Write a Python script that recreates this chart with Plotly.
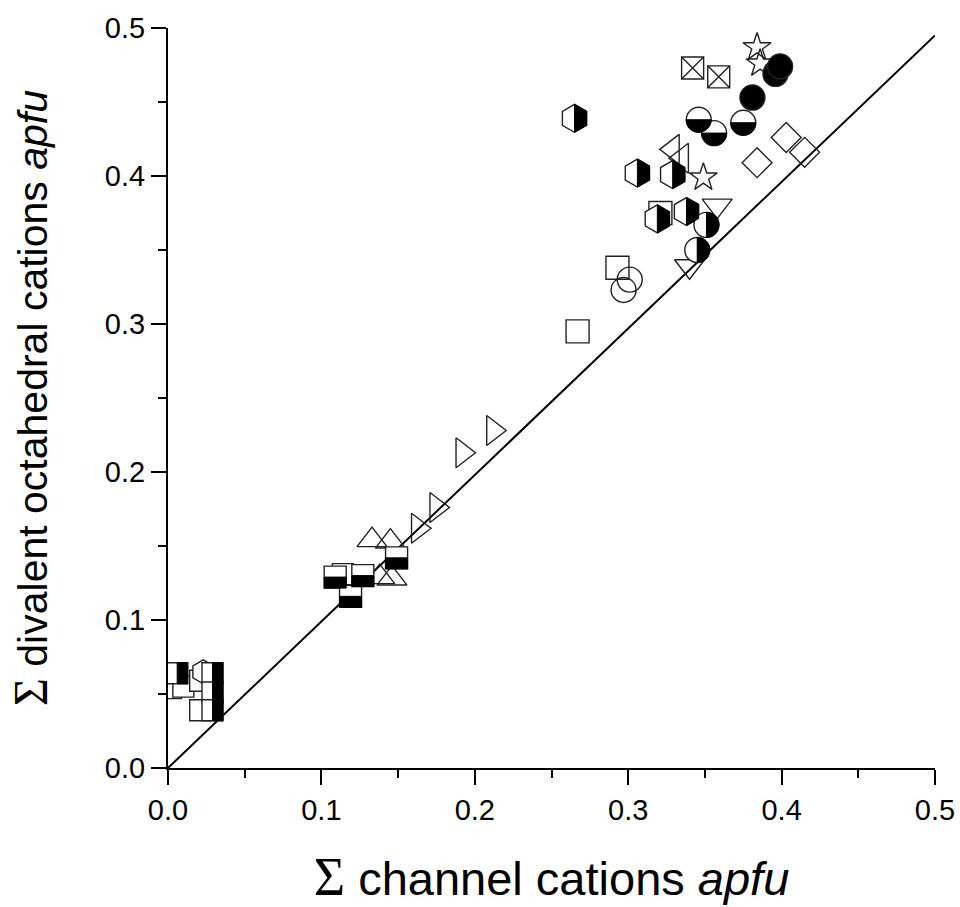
import numpy as np
import plotly.graph_objects as go

# ---------------- data ----------------
# open stars
star_x = [0.384, 0.386, 0.349]
star_y = [0.487, 0.476, 0.399]
# crossed squares
xsq_x = [0.342, 0.359]
xsq_y = [0.473, 0.467]
# filled circles
fcirc_x = [0.396, 0.399, 0.381]
fcirc_y = [0.469, 0.474, 0.453]
# circles, bottom half black
hcb_x = [0.346, 0.356, 0.375]
hcb_y = [0.438, 0.429, 0.436]
# circles, right half black
hcr_x = [0.351, 0.345]
hcr_y = [0.367, 0.350]
# hexagons, right half black
hex_x = [0.265, 0.306, 0.329, 0.319, 0.338]
hex_y = [0.439, 0.402, 0.401, 0.371, 0.376]
# open triangle-left
tl_x = [0.335, 0.329]
tl_y = [0.412, 0.418]
# open diamonds
dia_x = [0.384, 0.403, 0.415]
dia_y = [0.409, 0.426, 0.416]
# open triangle-down
td_x = [0.358, 0.340]
td_y = [0.380, 0.339]
# open squares
osq_x = [0.293, 0.267, 0.321]
osq_y = [0.338, 0.295, 0.375]
# open circles
ocirc_x = [0.301, 0.297]
ocirc_y = [0.330, 0.323]
# open triangle-right
tr_x = [0.212, 0.192, 0.175, 0.163]
tr_y = [0.228, 0.213, 0.176, 0.162]
# open triangle-up
tu_x = [0.133, 0.145, 0.138, 0.146]
tu_y = [0.154, 0.153, 0.129, 0.128]
# squares, bottom half black
sqb_x = [0.109, 0.119, 0.127, 0.149]
sqb_y = [0.129, 0.116, 0.130, 0.142]
# open squares (lower clusters)
osq2_x = [0.114, 0.002, 0.010, 0.021, 0.021]
osq2_y = [0.131, 0.054, 0.055, 0.059, 0.039]
# open hexagon in the lowest cluster
ohex_x = [0.023]
ohex_y = [0.065]
# squares, right half black
sqr_x = [0.006, 0.029, 0.029, 0.029]
sqr_y = [0.064, 0.064, 0.051, 0.039]

line_x = [0.0, 0.5]
line_y = [0.0, 0.495]

x_ticks = [0.0, 0.1, 0.2, 0.3, 0.4, 0.5]
tick_text = ["0.0", "0.1", "0.2", "0.3", "0.4", "0.5"]

# ---------------- figure ----------------
OUT = "#222222"
fig = go.Figure()

fig.add_trace(go.Scatter(x=line_x, y=line_y, mode="lines",
                         line=dict(color="black", width=2), hoverinfo="skip"))


def add_open(xs, ys, symbol, size, lw=1.4):
    fig.add_trace(go.Scatter(
        x=xs, y=ys, mode="markers",
        marker=dict(symbol=symbol, size=size, color=OUT, line=dict(color=OUT, width=lw))))


def add_filled(xs, ys, symbol, size, fill, lw=1.4):
    fig.add_trace(go.Scatter(
        x=xs, y=ys, mode="markers",
        marker=dict(symbol=symbol, size=size, color=fill, line=dict(color=OUT, width=lw))))


add_open(tr_x, tr_y, "triangle-right-open", 26)
add_open(tu_x, tu_y, "triangle-up-open", 26)
add_filled(osq2_x, osq2_y, "square", 21, "white")
add_filled(ohex_x, ohex_y, "hexagon", 24, "white")
add_filled(sqb_x, sqb_y, "square", 22, "white")
add_filled(sqr_x, sqr_y, "square", 21, "white")
add_open(osq_x, osq_y, "square-open", 23)
add_open(ocirc_x, ocirc_y, "circle-open", 25)
add_open(td_x, td_y, "triangle-down-open", 26)
add_open(dia_x, dia_y, "diamond-open", 23)
add_open(tl_x, tl_y, "triangle-left-open", 26)
add_filled(hex_x, hex_y, "hexagon", 28, "white")
add_filled(hcr_x, hcr_y, "circle", 25, "white")
add_filled(hcb_x, hcb_y, "circle", 25, "white")
add_open(star_x, star_y, "star-open", 21)
add_filled(fcirc_x, fcirc_y, "circle", 25, "black")
add_open(xsq_x, xsq_y, "square-x-open", 22)

# black halves for the half-filled symbols (pixel-sized shapes anchored at data points)
def path_from(pts):
    return "M" + " L".join(f"{px:.2f},{py:.2f}" for px, py in pts) + " Z"


def half_circle(r, start, end):
    th = np.linspace(np.radians(start), np.radians(end), 25)
    return path_from(list(zip(r * np.cos(th), r * np.sin(th))))


shapes = []


def add_half(xs, ys, path):
    for xv, yv in zip(xs, ys):
        shapes.append(dict(type="path", xref="x", yref="y",
                           xsizemode="pixel", ysizemode="pixel",
                           xanchor=xv, yanchor=yv, path=path,
                           fillcolor="black", line=dict(color="black", width=1),
                           layer="above"))


add_half(hcb_x, hcb_y, half_circle(12.5, 180, 360))
add_half(hcr_x, hcr_y, half_circle(12.5, -90, 90))
r = 14
r2 = r * np.sqrt(3) / 2
add_half(hex_x, hex_y, path_from([(0, r), (r2, r / 2), (r2, -r / 2), (0, -r)]))
s = 10.5
add_half(sqr_x, sqr_y, path_from([(0, -s), (s, -s), (s, s), (0, s)]))
s2 = 11
add_half(sqb_x, sqb_y, path_from([(-s2, 0), (s2, 0), (s2, -s2), (-s2, -s2)]))


def sig(size):
    return f'<span style="font-family:Liberation Serif;font-size:{size}px">Σ</span>'


fig.update_layout(
    width=960, height=907,
    margin=dict(l=168, r=25, t=28, b=139),
    paper_bgcolor="white", plot_bgcolor="white",
    showlegend=False,
    font=dict(family="Liberation Sans, Arial", color="black"),
    shapes=shapes,
)
axis_common = dict(
    range=[0, 0.5], tickvals=x_ticks, ticktext=tick_text,
    showgrid=False, zeroline=False, showline=True, automargin=False,
    linecolor="black", linewidth=2,
    ticks="outside", ticklen=15, tickwidth=2, tickcolor="black",
    tickfont=dict(size=29, family="Liberation Sans, Arial", color="black"),
    minor=dict(dtick=0.05, ticks="outside", ticklen=8, tickwidth=2, tickcolor="black", showgrid=False),
)
fig.update_xaxes(**axis_common,
                 title=dict(text=sig(54) + " channel cations <i>apfu</i>",
                            font=dict(size=47), standoff=40))
fig.update_yaxes(**axis_common,
                 title=dict(text=sig(48) + " divalent octahedral cations <i>apfu</i>",
                            font=dict(size=41), standoff=45))

fig.write_html("out.html")
